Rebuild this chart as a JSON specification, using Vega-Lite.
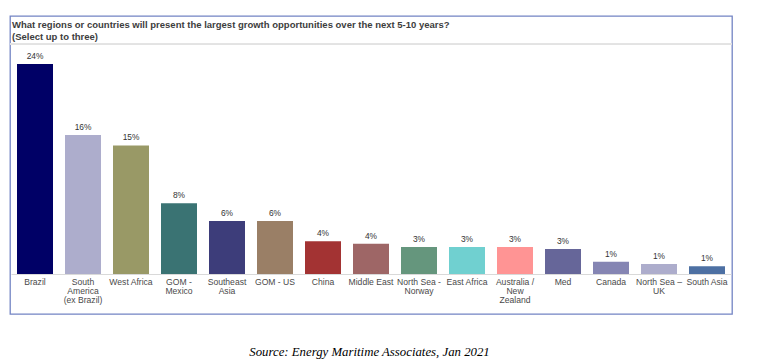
{
  "$schema": "https://vega.github.io/schema/vega-lite/v6.json",
  "width": 722,
  "height": 298,
  "autosize": "none",
  "padding": {"left": 10, "top": 16, "right": 32, "bottom": 50},
  "background": "white",
  "config": {
    "view": {"stroke": "#7384C4", "strokeWidth": 1.3},
    "font": "Liberation Sans"
  },
  "title": {
    "text": ["What regions or countries will present the largest growth opportunities over the next 5-10 years?", "(Select up to three)"],
    "orient": "top",
    "anchor": "start",
    "frame": "group",
    "baseline": "top",
    "offset": 0,
    "dx": 2,
    "dy": 25,
    "font": "Liberation Sans",
    "fontSize": 9.5,
    "fontWeight": "bold",
    "color": "#3d3d3d",
    "lineHeight": 11.5
  },
  "data": {
    "values": [
      {"region": "Brazil", "share": 24.0, "label": "24%"},
      {"region": "South America (ex Brazil)", "share": 15.9, "label": "16%"},
      {"region": "West Africa", "share": 14.7, "label": "15%"},
      {"region": "GOM - Mexico", "share": 8.1, "label": "8%"},
      {"region": "Southeast Asia", "share": 6.06, "label": "6%"},
      {"region": "GOM - US", "share": 6.06, "label": "6%"},
      {"region": "China", "share": 3.75, "label": "4%"},
      {"region": "Middle East", "share": 3.47, "label": "4%"},
      {"region": "North Sea - Norway", "share": 3.1, "label": "3%"},
      {"region": "East Africa", "share": 3.1, "label": "3%"},
      {"region": "Australia / New Zealand", "share": 3.1, "label": "3%"},
      {"region": "Med", "share": 2.86, "label": "3%"},
      {"region": "Canada", "share": 1.4, "label": "1%"},
      {"region": "North Sea – UK", "share": 1.14, "label": "1%"},
      {"region": "South Asia", "share": 0.88, "label": "1%"}
    ]
  },
  "encoding": {
    "x": {
      "field": "region",
      "type": "nominal",
      "sort": null,
      "scale": {"range": [1, 721], "paddingInner": 0.25, "paddingOuter": 0.125},
      "axis": {
        "title": "Source: Energy Maritime Associates, Jan 2021",
        "titleFont": "Liberation Serif",
        "titleFontStyle": "italic",
        "titleFontWeight": "normal",
        "titleFontSize": 12.8,
        "titleColor": "#000000",
        "titleX": 359,
        "titleY": 77,
        "titleAlign": "center",
        "titleBaseline": "middle",
        "offset": -40,
        "ticks": false,
        "domainColor": "#d9d9d9",
        "domainWidth": 1,
        "labelAngle": 0,
        "labelFont": "Liberation Sans",
        "labelFontSize": 8.6,
        "labelColor": "#4a4a4a",
        "labelPadding": 3,
        "labelLineHeight": 9.3,
        "labelBaseline": "top",
        "labelExpr": "datum.label == 'South America (ex Brazil)' ? ['South', 'America', '(ex Brazil)'] : datum.label == 'GOM - Mexico' ? ['GOM -', 'Mexico'] : datum.label == 'Southeast Asia' ? ['Southeast', 'Asia'] : datum.label == 'North Sea - Norway' ? ['North Sea -', 'Norway'] : datum.label == 'Australia / New Zealand' ? ['Australia /', 'New', 'Zealand'] : datum.label == 'North Sea – UK' ? ['North Sea –', 'UK'] : datum.label",
        "labelLimit": 0,
        "labelOverlap": false
      }
    },
    "y": {
      "field": "share",
      "type": "quantitative",
      "scale": {"domain": [0, 29.49], "range": [258, 0], "nice": false, "zero": true},
      "axis": null
    }
  },
  "layer": [
    {
      "mark": {"type": "rule", "color": "#e3e3e3", "strokeWidth": 1},
      "encoding": {
        "x": null,
        "y": {"datum": 26.29, "type": "quantitative"}
      }
    },
    {
      "mark": {"type": "bar"},
      "encoding": {
        "color": {
          "field": "region",
          "type": "nominal",
          "legend": null,
          "scale": {
            "domain": ["Brazil", "South America (ex Brazil)", "West Africa", "GOM - Mexico", "Southeast Asia", "GOM - US", "China", "Middle East", "North Sea - Norway", "East Africa", "Australia / New Zealand", "Med", "Canada", "North Sea – UK", "South Asia"],
            "range": ["#000066", "#ADADCC", "#999966", "#3A7373", "#3D3D7A", "#9A7F66", "#A33333", "#9E6666", "#65967D", "#70D0D0", "#FF9494", "#666699", "#8585B3", "#ADADCC", "#4D70A3"]
          }
        }
      }
    },
    {
      "mark": {"type": "text", "baseline": "bottom", "dy": -3, "fontSize": 8.4, "color": "#333333", "font": "Liberation Sans"},
      "encoding": {"text": {"field": "label"}}
    }
  ]
}
